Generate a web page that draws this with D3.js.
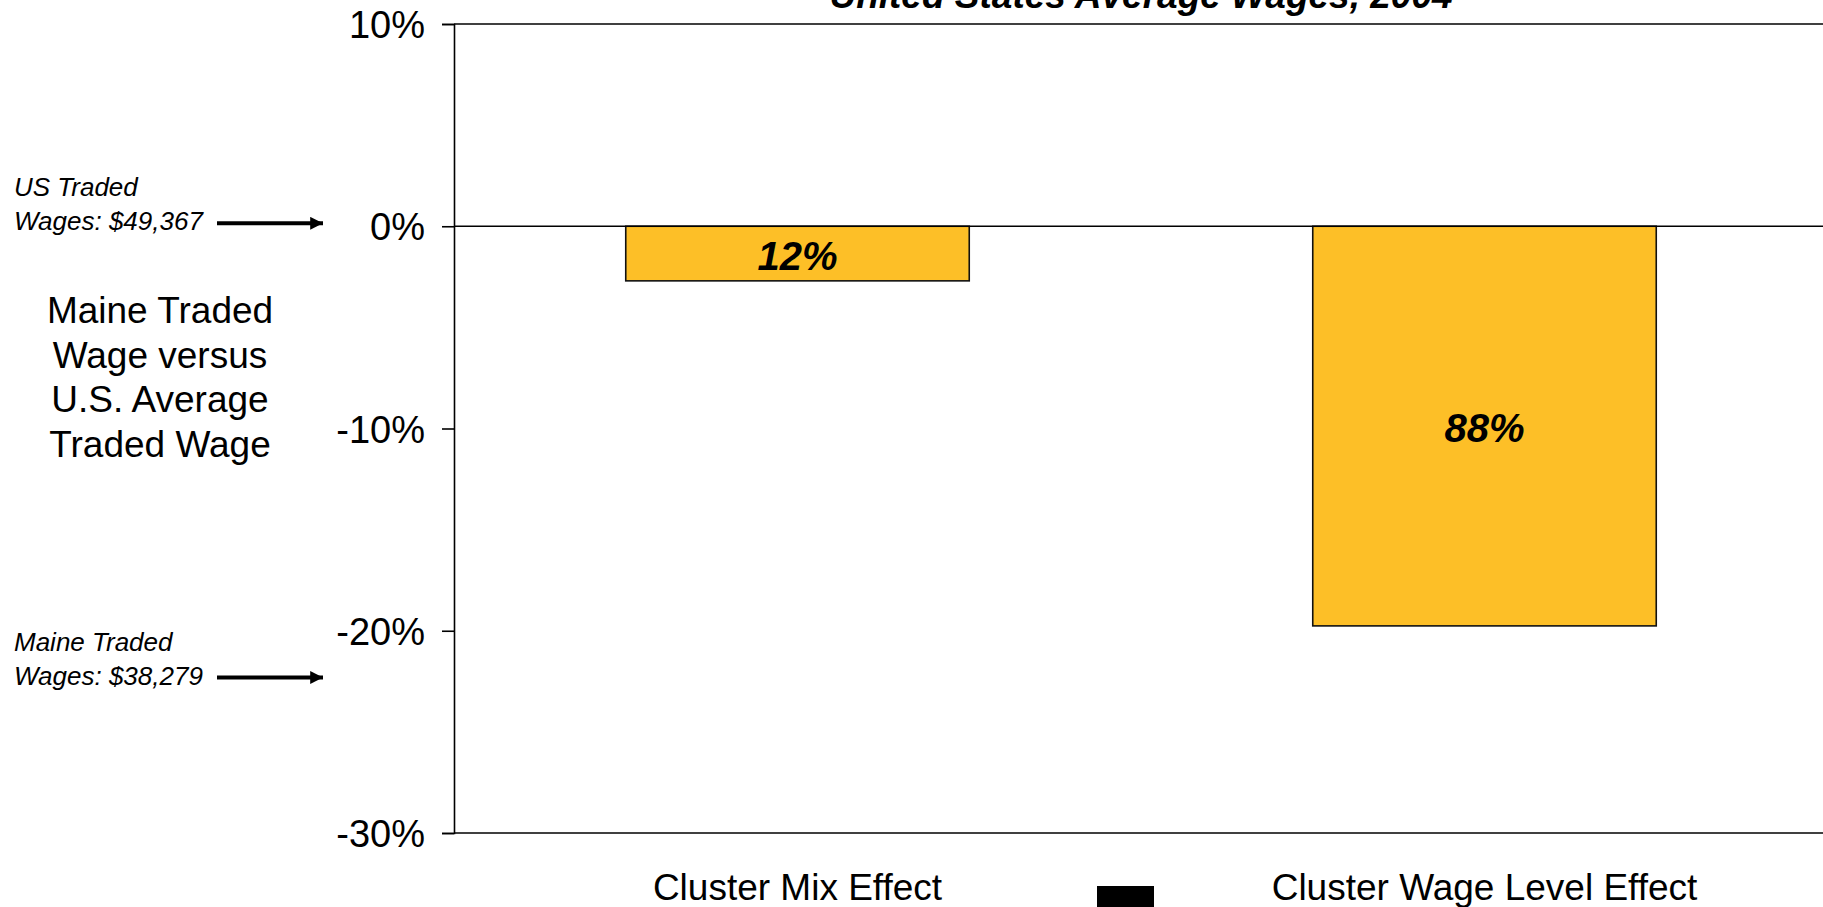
<!DOCTYPE html>
<html>
<head>
<meta charset="utf-8">
<script src="https://cdn.jsdelivr.net/npm/d3@7"></script>
<style>
  html, body { margin: 0; padding: 0; background: #fff; }
  svg { display: block; font-family: "Liberation Sans", Arial, sans-serif; }
</style>
</head>
<body>
<svg id="chart" width="1823" height="907"></svg>
<script>
// Decomposition of the traded-wage gap (percent vs. U.S. average)
const categories = ["Cluster Mix Effect", "Cluster Wage Level Effect"];
const values = [-2.70, -19.76];
const shareLabels = ["12%", "88%"];
const yTicks = [10, 0, -10, -20, -30];

// Reference wage levels marked with arrows (percent vs. U.S.)
const wageNotes = [
  { lines: ["US Traded", "Wages: $49,367"], level: 0 },
  { lines: ["Maine Traded", "Wages: $38,279"], level: -22.46 }
];
const sideTitle = ["Maine Traded", "Wage versus", "U.S. Average", "Traded Wage"];
const chartTitle = "United States Average Wages, 2004";

const svg = d3.select("#chart");
const plotLeft = 454, plotRight = 1828, plotTop = 24, plotBottom = 833;

const y = d3.scaleLinear().domain([10, -30]).range([plotTop, plotBottom]);
const x = d3.scaleBand().domain(categories).range([plotLeft, plotRight])
  .paddingInner(0.5).paddingOuter(0.25);

const barColor = "#FDBF27";

// arrowhead marker
svg.append("defs").append("marker")
  .attr("id", "head").attr("viewBox", "0 0 10 10")
  .attr("refX", 10).attr("refY", 5)
  .attr("markerWidth", 4).attr("markerHeight", 3.2)
  .attr("markerUnits", "strokeWidth")
  .attr("orient", "auto")
  .append("path").attr("d", "M0,0 L10,5 L0,10 Z").attr("fill", "#000");

// title (sits at the very top edge)
svg.append("text")
  .attr("x", (plotLeft + plotRight) / 2).attr("y", 8)
  .attr("text-anchor", "middle")
  .attr("font-size", 37).attr("font-weight", "bold").attr("font-style", "italic")
  .text(chartTitle);

// plot frame lines at top and bottom of the value range
svg.append("line").attr("x1", plotLeft).attr("x2", plotRight)
  .attr("y1", y(10)).attr("y2", y(10))
  .attr("stroke", "#000").attr("stroke-width", 1.6);
svg.append("line").attr("x1", plotLeft).attr("x2", plotRight)
  .attr("y1", y(-30)).attr("y2", y(-30))
  .attr("stroke", "#000").attr("stroke-width", 1.6);

// bars
svg.selectAll("rect.bar").data(values).join("rect")
  .attr("class", "bar")
  .attr("x", (d, i) => x(categories[i]))
  .attr("width", x.bandwidth())
  .attr("y", d => y(Math.max(0, d)))
  .attr("height", d => Math.abs(y(d) - y(0)))
  .attr("fill", barColor)
  .attr("stroke", "#111").attr("stroke-width", 1.6);

// zero line
svg.append("line").attr("x1", plotLeft).attr("x2", plotRight)
  .attr("y1", y(0)).attr("y2", y(0))
  .attr("stroke", "#000").attr("stroke-width", 1.6);

// share labels inside bars
svg.selectAll("text.share").data(values).join("text")
  .attr("class", "share")
  .attr("x", (d, i) => x(categories[i]) + x.bandwidth() / 2)
  .attr("y", d => (y(0) + y(d)) / 2)
  .attr("dy", "0.4em")
  .attr("text-anchor", "middle")
  .attr("font-size", 40).attr("font-weight", "bold").attr("font-style", "italic")
  .text((d, i) => shareLabels[i]);

// y axis
const yAxis = d3.axisLeft(y).tickValues(yTicks)
  .tickFormat(d => d + "%").tickSize(12).tickPadding(17);
const gy = svg.append("g").attr("transform", `translate(${plotLeft},0)`).call(yAxis);
gy.select(".domain").attr("stroke", "#000").attr("stroke-width", 1.6);
gy.selectAll(".tick line").attr("stroke", "#000").attr("stroke-width", 1.6);
gy.selectAll(".tick text")
  .attr("font-size", 38).attr("fill", "#000")
  .attr("font-family", "\"Liberation Sans\", Arial, sans-serif")
  .attr("dy", "0.36em");

// category labels
const xAxis = d3.axisBottom(x).tickSize(0).tickPadding(0);
const gx = svg.append("g").attr("transform", `translate(0,${plotBottom})`).call(xAxis);
gx.select(".domain").remove();
gx.selectAll(".tick text")
  .attr("font-size", 37).attr("fill", "#000")
  .attr("font-family", "\"Liberation Sans\", Arial, sans-serif")
  .attr("dy", null).attr("y", 67);

// legend key
svg.append("rect")
  .attr("x", (plotLeft + plotRight) / 2 - 44).attr("y", 886)
  .attr("width", 57).attr("height", 40)
  .attr("fill", "#000");

// side title
svg.append("text")
  .attr("text-anchor", "middle")
  .attr("font-size", 37)
  .selectAll("tspan").data(sideTitle).join("tspan")
  .attr("x", 160)
  .attr("y", (d, i) => 323 + i * 44.5)
  .text(d => d);

// wage level annotations with arrows
const notes = svg.selectAll("g.note").data(wageNotes).join("g").attr("class", "note");
notes.append("line")
  .attr("x1", 217).attr("x2", 323)
  .attr("y1", d => y(d.level) - 3).attr("y2", d => y(d.level) - 3)
  .attr("stroke", "#000").attr("stroke-width", 4)
  .attr("marker-end", "url(#head)");
notes.append("text")
  .attr("font-size", 26).attr("font-style", "italic")
  .selectAll("tspan").data(d => d.lines.map((t, i) => ({ t, i, base: y(d.level) + 4 })))
  .join("tspan")
  .attr("x", 14)
  .attr("y", d => d.base - (1 - d.i) * 34)
  .text(d => d.t);
</script>
</body>
</html>
